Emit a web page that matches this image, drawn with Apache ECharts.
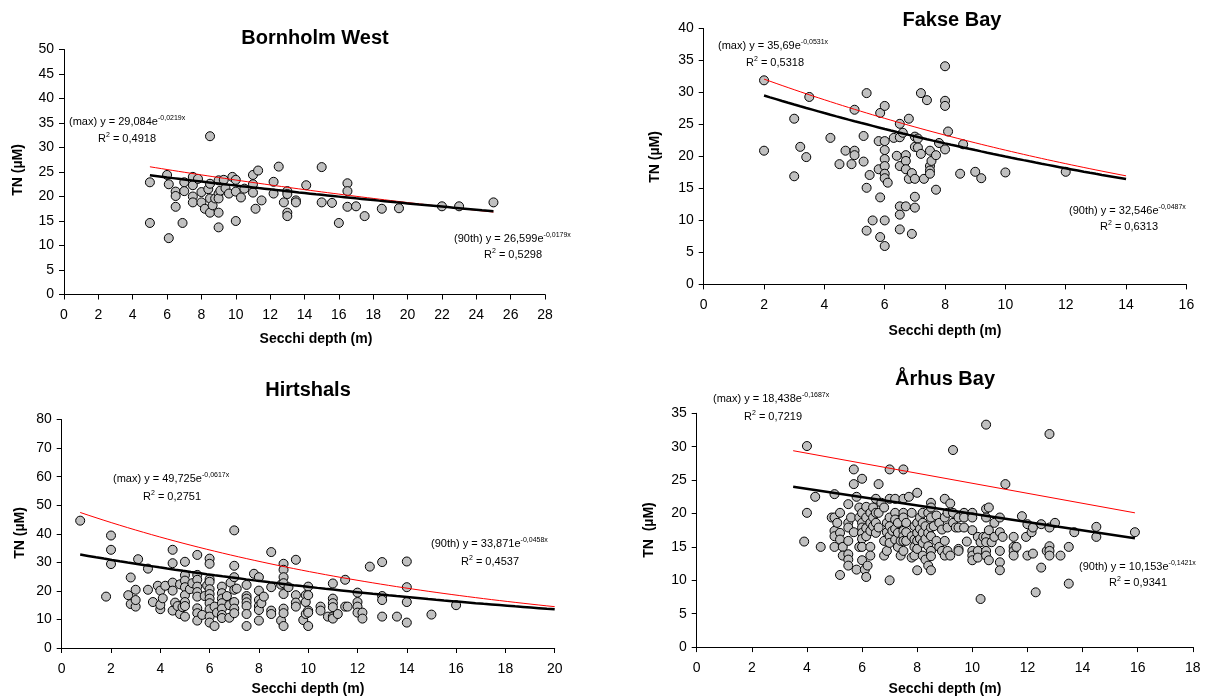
<!DOCTYPE html>
<html>
<head>
<meta charset="utf-8">
<script src="https://cdn.jsdelivr.net/npm/echarts@6/dist/echarts.min.js"></script>
<style>
  html, body { margin: 0; padding: 0; background: #fff; }
  #chart { width: 1209px; height: 698px; }
</style>
</head>
<body>
<div id="chart"></div>
<script>
// Secchi depth (m) vs total nitrogen TN (µM) at four Danish stations.

const bornholmPoints = [
  [5,22.9],[5,14.6],[6,24.4],[6.1,22.5],[6.1,11.5],[6.5,21.0],[6.5,20.1],[6.5,17.9],[6.9,14.6],
  [7,22.9],[7,21.1],[7.5,24.0],[7.5,22.3],[7.5,20.0],[7.5,18.8],[7.8,23.6],[8,20.9],[8,18.8],
  [8.2,17.5],[8.4,21.5],[8.5,32.3],[8.5,22.6],[8.5,19.6],[8.5,16.7],[8.65,18.2],[8.8,19.6],
  [9,23.3],[9,20.6],[9,19.6],[9,16.7],[9,13.7],[9.1,21.2],[9.3,23.4],[9.4,21.7],[9.6,20.6],
  [9.8,24.0],[10,23.4],[10,21.0],[10,15.0],[10.3,19.8],[10.5,21.6],[11,24.4],[11,22.5],[11,20.8],
  [11.15,17.5],[11.3,25.3],[11.5,19.2],[12.2,23.0],[12.2,20.6],[12.5,26.1],[12.8,18.8],[13,21.1],
  [13,20.5],[13,16.7],[13,16.0],[13.5,19.2],[13.5,18.8],[14.1,22.3],[15,26.0],[15,18.8],[15.6,18.7],
  [16,14.6],[16.5,22.7],[16.5,21.1],[16.5,17.9],[17,18.0],[17.5,16.0],[18.5,17.5],[19.5,17.6],
  [22,18.0],[23,18.0],[25,18.8]
];

const faksePoints = [
  [2,31.9],[2,20.9],[3,25.9],[3,16.9],[3.2,21.5],[3.4,19.9],[3.5,29.3],[4.2,22.9],[4.5,18.8],
  [4.7,20.9],[4.9,18.8],[5,27.3],[5,20.9],[5,20.2],[5.3,23.2],[5.3,19.2],[5.4,29.9],[5.4,15.1],
  [5.4,8.4],[5.5,17.1],[5.6,10.0],[5.8,22.4],[5.8,18.0],[5.85,26.8],[5.85,13.6],[5.85,7.4],
  [6,27.9],[6,22.4],[6,21.0],[6,19.6],[6,18.5],[6,17.3],[6,16.6],[6,10.0],[6,6.0],[6.1,15.9],
  [6.3,22.9],[6.4,20.1],[6.5,25.1],[6.5,23.0],[6.5,18.5],[6.5,12.2],[6.5,10.9],[6.5,8.6],
  [6.6,23.7],[6.7,20.2],[6.7,19.3],[6.7,18.0],[6.7,12.2],[6.8,25.9],[6.8,16.5],[6.9,17.4],
  [6.9,7.9],[7,23.1],[7,21.5],[7,16.5],[7,13.7],[7,12.0],[7.1,22.8],[7.1,21.4],[7.2,29.9],
  [7.2,20.4],[7.3,16.5],[7.4,28.8],[7.5,20.9],[7.5,18.5],[7.5,17.8],[7.5,17.3],[7.55,19.3],
  [7.7,20.2],[7.7,14.8],[7.8,22.1],[8,34.1],[8,28.7],[8,27.9],[8,21.1],[8.1,23.9],[8.5,17.3],
  [8.6,21.9],[9,17.6],[9.2,16.6],[10,17.5],[12,17.6]
];

const hirtshalsPoints = [
  [0.75,44.6],[1.8,18.0],[2,39.4],[2,34.4],[2,29.4],[2.8,24.7],[2.7,18.5],[2.8,15.4],[3,14.5],
  [3,16.8],[3,20.4],[3.1,31.1],[3.5,27.8],[3.5,20.4],[3.7,16.1],[3.9,21.8],[4,20.1],[4,13.6],
  [4,15.1],[4.1,17.4],[4.2,21.8],[4.5,34.4],[4.5,29.7],[4.5,22.9],[4.5,20.1],[4.5,13.1],
  [4.6,15.9],[4.7,14.7],[4.8,22.3],[4.8,11.9],[4.9,14.3],[5,30.2],[5,25.5],[5,23.6],[5,21.3],
  [5,18.5],[5,16.1],[5,14.7],[5,11.0],[5.2,20.6],[5.3,22.7],[5.5,32.6],[5.5,25.6],[5.5,23.9],
  [5.5,21.5],[5.5,19.6],[5.5,18.0],[5.5,13.9],[5.5,12.2],[5.5,9.6],[5.7,11.6],[5.8,18.2],
  [5.9,21.9],[6,31.3],[6,29.5],[6,24.1],[6,23.2],[6,20.6],[6,18.9],[6,17.3],[6,15.7],[6,13.6],
  [6,11.0],[6,8.9],[6.2,7.7],[6.2,14.5],[6.3,12.4],[6.5,21.5],[6.5,19.2],[6.5,17.3],[6.5,15.7],
  [6.5,13.8],[6.5,11.6],[6.5,10.5],[6.7,18.2],[6.8,15.0],[6.8,10.6],[6.85,22.9],[7,41.2],
  [7,28.8],[7,24.8],[7,20.4],[7,16.1],[7,13.8],[7,12.2],[7.1,20.8],[7.5,22.1],[7.5,18.2],
  [7.5,17.3],[7.5,16.0],[7.5,14.7],[7.5,11.9],[7.5,7.7],[7.8,26.0],[8,24.8],[8,20.1],[8,16.8],
  [8,14.7],[8,13.3],[8,9.6],[8.1,15.7],[8.2,18.0],[8.5,33.6],[8.5,21.3],[8.5,13.1],[8.5,11.9],
  [8.9,22.2],[8.9,9.6],[9,29.5],[9,27.4],[9,24.8],[9,22.7],[9,18.9],[9,13.8],[9,12.2],[9,7.7],
  [9.2,21.3],[9.5,30.9],[9.5,18.5],[9.5,15.9],[9.5,14.5],[9.8,9.8],[9.9,18.5],[9.9,16.1],
  [9.9,11.9],[10,21.5],[10,18.5],[10,13.1],[10,12.4],[10,7.7],[10.5,14.5],[10.5,13.1],
  [10.8,11.0],[11,22.6],[11,17.3],[11,15.7],[11,14.3],[11,11.0],[11,10.3],[11.2,11.9],
  [11.5,23.9],[11.5,14.5],[11.6,14.5],[12,19.4],[12,16.1],[12,14.5],[12,12.4],[12.2,12.4],
  [12.2,10.3],[12.5,28.5],[13,30.1],[13,18.2],[13,16.8],[13,11.0],[13.6,11.0],[14,30.3],
  [14,21.3],[14,16.1],[14,8.9],[15,11.7],[16,15.0]
];

const arhusPoints = [
  [3.9,15.8],[4,30.1],[4,20.1],[4.3,22.5],[4.5,15.0],[5,22.9],[4.9,19.4],[5,19.4],[5,17.4],
  [5,16.6],[5,15.0],[5.2,20.1],[5.2,17.1],[5.2,16.1],[5.2,10.8],[5.1,18.6],[5.3,15.0],[5.3,13.7],
  [5.5,21.4],[5.5,18.6],[5.5,17.9],[5.5,15.9],[5.5,13.9],[5.5,13.1],[5.5,12.2],[5.6,19.4],
  [5.7,26.6],[5.7,24.4],[5.7,17.2],[5.8,22.5],[5.8,11.6],[5.9,20.9],[5.9,19.4],[5.9,15.0],
  [6,25.2],[6,20.1],[6,18.6],[6,17.9],[6,17.1],[6,16.2],[6,15.0],[6,13.0],[6.1,11.6],[6.15,21.0],
  [6.15,19.4],[6.15,17.8],[6.15,16.6],[6.15,10.5],[6.2,12.2],[6.3,20.1],[6.3,18.6],[6.3,17.4],
  [6.3,15.0],[6.3,13.7],[6.4,20.9],[6.4,19.4],[6.4,18.1],[6.5,22.2],[6.5,20.1],[6.5,18.6],
  [6.5,17.1],[6.6,24.4],[6.6,20.1],[6.6,17.9],[6.7,21.6],[6.8,20.9],[6.8,15.9],[6.8,13.7],
  [6.9,18.6],[6.9,17.2],[6.9,14.4],[7,26.6],[7,22.2],[7,19.4],[7,18.1],[7,16.6],[7,15.6],
  [7,10.0],[7.1,17.4],[7.2,22.2],[7.2,20.1],[7.2,19.1],[7.2,17.7],[7.2,16.1],[7.3,18.6],
  [7.3,17.1],[7.3,15.0],[7.4,15.9],[7.4,13.7],[7.5,26.6],[7.5,22.2],[7.5,20.1],[7.5,19.4],
  [7.5,17.4],[7.5,16.6],[7.5,15.9],[7.5,14.4],[7.6,18.6],[7.6,17.2],[7.6,15.9],[7.7,22.5],
  [7.8,16.6],[7.8,13.4],[7.8,20.1],[7.9,18.1],[7.9,16.1],[7.9,15.0],[7.9,13.7],[8,23.1],
  [8,18.6],[8,17.1],[8,15.9],[8,14.7],[8,11.5],[8.1,19.4],[8.1,17.7],[8.1,16.2],[8.2,20.1],
  [8.2,18.6],[8.2,17.1],[8.2,15.6],[8.2,13.7],[8.3,18.1],[8.3,16.2],[8.3,13.1],[8.4,20.1],
  [8.4,17.1],[8.4,15.1],[8.4,12.2],[8.5,21.6],[8.5,20.9],[8.5,19.4],[8.5,17.9],[8.5,16.6],
  [8.5,14.4],[8.5,13.6],[8.5,11.5],[8.6,18.1],[8.7,15.9],[8.7,19.7],[8.8,18.6],[8.8,15.0],
  [8.9,17.6],[8.9,14.4],[9,22.2],[9,19.4],[9,15.9],[9,13.7],[9.1,20.1],[9.1,17.9],[9.1,14.4],
  [9.2,21.5],[9.2,13.7],[9.3,29.5],[9.3,20.1],[9.3,18.6],[9.4,17.9],[9.5,19.4],[9.5,17.9],
  [9.5,14.7],[9.5,14.4],[9.7,20.1],[9.7,19.4],[9.7,17.9],[9.8,15.8],[10,20.1],[10,19.4],
  [10,17.5],[10,14.4],[10,13.7],[10,13.0],[10.2,16.5],[10.2,14.4],[10.2,13.4],[10.3,15.7],
  [10.3,7.2],[10.4,16.5],[10.5,33.3],[10.5,20.7],[10.5,19.4],[10.5,16.5],[10.5,15.7],
  [10.5,14.4],[10.5,13.7],[10.6,20.9],[10.6,17.5],[10.6,13.0],[10.7,15.7],[10.8,18.6],
  [10.8,16.5],[11,19.4],[11,17.2],[11,14.4],[11,12.7],[11,11.5],[11.1,16.5],[11.2,24.4],
  [11.5,16.5],[11.5,15.0],[11.5,14.4],[11.5,13.7],[11.6,15.0],[11.8,19.6],[11.95,16.5],
  [12,13.7],[12,18.4],[12.15,17.2],[12.2,17.9],[12.2,14.0],[12.3,8.2],[12.5,18.4],[12.5,11.9],
  [12.7,14.4],[12.8,31.9],[12.8,17.9],[12.8,15.1],[12.8,14.4],[12.8,13.7],[13,18.6],[13.2,13.7],
  [13.5,15.0],[13.5,9.5],[13.7,17.2],[14.5,18.0],[14.5,16.5],[15.9,17.2]
];

// Fitted curves y = a·e^(b·x): [a, b, R²]
const bornholmMaxFit = [29.084, -0.0219, 0.4918];
const bornholm90Fit  = [26.599, -0.0179, 0.5298];
const fakseMaxFit    = [35.69,  -0.0531, 0.5318];
const fakse90Fit     = [32.546, -0.0487, 0.6313];
const hirtshalsMaxFit = [49.725, -0.0617, 0.2751];
const hirtshals90Fit  = [33.871, -0.0458, 0.4537];
const arhusMaxFit    = [18.438, -0.1687, 0.7219];
const arhus90Fit     = [10.153, -0.1421, 0.9341];

// x extent over which each station's curves are drawn
const bornholmFitRange  = [5, 25];
const fakseFitRange     = [2, 14];
const hirtshalsFitRange = [0.75, 20];

// Århus trend lines as plotted (end points in depth, TN)
const arhusMaxLine = [[3.5, 29.4], [15.9, 20.1]];
const arhus90Line  = [[3.5, 24.0], [15.9, 16.3]];

const FONT = '"Liberation Sans", Arial, Helvetica, sans-serif';

function expCurve(fit, range) {
  const pts = [];
  const n = 60;
  for (let i = 0; i <= n; i++) {
    const x = range[0] + (range[1] - range[0]) * i / n;
    pts.push([x, fit[0] * Math.exp(fit[1] * x)]);
  }
  return pts;
}

const comma = v => String(v).replace('.', ',');

// panel geometry (pixels)
const panels = [
  { name: 'Bornholm West', left: 64, top: 49.5, width: 481, height: 245,
    xMax: 28, yMax: 50, yInt: 5, pts: bornholmPoints,
    maxLine: expCurve(bornholmMaxFit, bornholmFitRange), p90Line: expCurve(bornholm90Fit, bornholmFitRange),
    maxFit: bornholmMaxFit, p90Fit: bornholm90Fit,
    title: [315, 38], xName: [316, 339], yName: [18, 170], yLabel: 'TN (µM)',
    maxAnn: [69, 122], maxR: [98, 139], p90Ann: [454, 239], p90R: [484, 255] },
  { name: 'Fakse Bay', left: 703.7, top: 28.5, width: 482.7, height: 255.9,
    xMax: 16, yMax: 40, yInt: 5, pts: faksePoints,
    maxLine: expCurve(fakseMaxFit, fakseFitRange), p90Line: expCurve(fakse90Fit, fakseFitRange),
    maxFit: fakseMaxFit, p90Fit: fakse90Fit,
    title: [952, 20], xName: [945, 331], yName: [655, 157], yLabel: 'TN (µM)',
    maxAnn: [718, 46], maxR: [746, 63], p90Ann: [1069, 211], p90R: [1100, 227] },
  { name: 'Hirtshals', left: 61.7, top: 419.6, width: 493, height: 228.4,
    xMax: 20, yMax: 80, yInt: 10, pts: hirtshalsPoints,
    maxLine: expCurve(hirtshalsMaxFit, hirtshalsFitRange), p90Line: expCurve(hirtshals90Fit, hirtshalsFitRange),
    maxFit: hirtshalsMaxFit, p90Fit: hirtshals90Fit,
    title: [308, 390], xName: [308, 689], yName: [20, 533], yLabel: 'TN (µM)',
    maxAnn: [113, 479], maxR: [143, 497], p90Ann: [431, 544], p90R: [461, 562] },
  { name: 'Århus Bay', left: 696.7, top: 413.3, width: 496.1, height: 233.8,
    xMax: 18, yMax: 35, yInt: 5, pts: arhusPoints,
    maxLine: arhusMaxLine, p90Line: arhus90Line,
    maxFit: arhusMaxFit, p90Fit: arhus90Fit,
    title: [945, 379], xName: [945, 689], yName: [649, 530], yLabel: 'TN  (µM)',
    maxAnn: [713, 399], maxR: [744, 417], p90Ann: [1079, 567], p90R: [1109, 583] }
];

const grid = [], xAxis = [], yAxis = [], series = [], graphic = [];

const axisCommon = {
  axisLine: { show: true, onZero: false, lineStyle: { color: '#000', width: 1 } },
  axisTick: { show: true, inside: false, length: 5, lineStyle: { color: '#000', width: 1 } },
  splitLine: { show: false }
};
const tickLabel = { color: '#000', fontSize: 14, fontFamily: FONT };

const richStyle = {
  t: { fontSize: 11, fontFamily: FONT, color: '#000', lineHeight: 14 },
  s: { fontSize: 7, fontFamily: FONT, color: '#000', lineHeight: 14, verticalAlign: 'top' }
};

function annText(x, y, str) {
  return { type: 'text', left: x, top: y - 7, z: 20,
    style: { text: str, rich: richStyle, fill: '#000' } };
}

panels.forEach((p, i) => {
  grid.push({ left: p.left, top: p.top, width: p.width, height: p.height, containLabel: false });
  xAxis.push(Object.assign({ type: 'value', gridIndex: i, min: 0, max: p.xMax, interval: 2 }, axisCommon,
    { axisLabel: Object.assign({}, tickLabel, { margin: 14 }) }));
  yAxis.push(Object.assign({ type: 'value', gridIndex: i, min: 0, max: p.yMax, interval: p.yInt }, axisCommon,
    { axisLabel: Object.assign({}, tickLabel, { margin: 10 }) }));

  series.push({
    type: 'scatter', xAxisIndex: i, yAxisIndex: i, data: p.pts, symbol: 'circle', symbolSize: 9,
    itemStyle: { color: '#c0c0c0', borderColor: '#000', borderWidth: 1, opacity: 1 },
    z: 2, silent: true
  });
  series.push({
    type: 'line', xAxisIndex: i, yAxisIndex: i, data: p.maxLine, showSymbol: false, symbol: 'none',
    lineStyle: { color: '#ff0000', width: 1 }, z: 3, silent: true, animation: false
  });
  series.push({
    type: 'line', xAxisIndex: i, yAxisIndex: i, data: p.p90Line, showSymbol: false, symbol: 'none',
    lineStyle: { color: '#000', width: 2.5 }, z: 4, silent: true, animation: false
  });

  graphic.push({ type: 'text', x: p.title[0], y: p.title[1], z: 20,
    style: { text: p.name, fontSize: 20, fontWeight: 'bold', fontFamily: FONT, fill: '#000',
      textAlign: 'center', textVerticalAlign: 'middle' } });
  graphic.push({ type: 'text', x: p.xName[0], y: p.xName[1], z: 20,
    style: { text: 'Secchi depth (m)', fontSize: 14, fontWeight: 'bold', fontFamily: FONT, fill: '#000',
      textAlign: 'center', textVerticalAlign: 'middle' } });
  graphic.push({ type: 'text', x: p.yName[0], y: p.yName[1], rotation: Math.PI / 2, z: 20,
    style: { text: p.yLabel, fontSize: 14, fontWeight: 'bold', fontFamily: FONT, fill: '#000',
      textAlign: 'center', textVerticalAlign: 'middle' } });

  graphic.push(annText(p.maxAnn[0], p.maxAnn[1],
    '{t|(max) y = ' + comma(p.maxFit[0]) + 'e}{s|' + comma(p.maxFit[1]) + 'x}'));
  graphic.push(annText(p.maxR[0], p.maxR[1], '{t|R}{s|2}{t| = ' + comma(p.maxFit[2]) + '}'));
  graphic.push(annText(p.p90Ann[0], p.p90Ann[1],
    '{t|(90th) y = ' + comma(p.p90Fit[0]) + 'e}{s|' + comma(p.p90Fit[1]) + 'x}'));
  graphic.push(annText(p.p90R[0], p.p90R[1], '{t|R}{s|2}{t| = ' + comma(p.p90Fit[2]) + '}'));
});

const chart = echarts.init(document.getElementById('chart'), null, { renderer: 'canvas' });
chart.setOption({
  backgroundColor: '#ffffff',
  animation: false,
  grid, xAxis, yAxis, series, graphic
});
</script>
</body>
</html>
